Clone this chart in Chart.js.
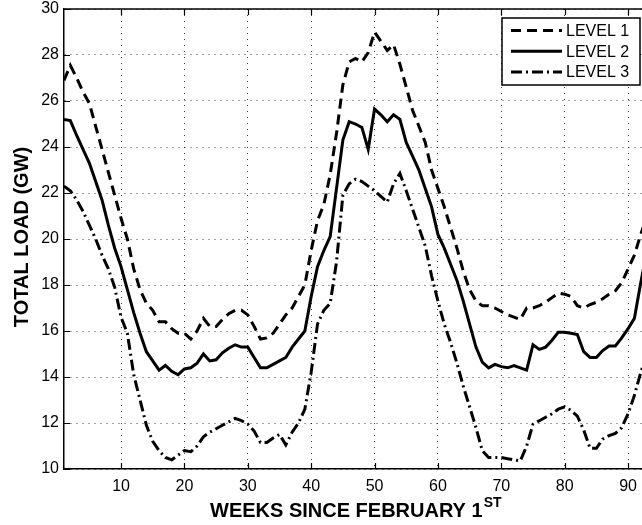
<!DOCTYPE html>
<html>
<head>
<meta charset="utf-8">
<title>Total load by level</title>
<script src="https://cdn.jsdelivr.net/npm/chart.js@4/dist/chart.umd.min.js"></script>
<style>
  html, body { margin: 0; padding: 0; background: #fff; }
  #wrap { width: 642px; height: 525px; }
</style>
</head>
<body>
<div id="wrap"><canvas id="c" width="642" height="525"></canvas></div>
<script>
// Weeks since February 1st
const weeks = [1,2,3,4,5,6,7,8,9,10,11,12,13,14,15,16,17,18,19,20,
  21,22,23,24,25,26,27,28,29,30,31,32,33,34,35,36,37,38,39,40,
  41,42,43,44,45,46,47,48,49,50,51,52,53,54,55,56,57,58,59,60,
  61,62,63,64,65,66,67,68,69,70,71,72,73,74,75,76,77,78,79,80,
  81,82,83,84,85,86,87,88,89,90,91,92,93];

// Total load in GW for each level
const level1 = [26.9,27.55,27.0,26.4,25.9,24.9,23.9,22.9,21.9,20.9,
  20.0,18.7,17.8,17.2,16.9,16.4,16.4,16.1,15.9,15.9,
  15.65,16.0,16.55,16.2,16.2,16.5,16.75,16.9,16.9,16.7,
  16.2,15.65,15.7,15.9,16.3,16.7,17.0,17.5,18.0,19.5,
  20.8,21.5,22.8,24.6,26.7,27.7,27.85,27.7,28.1,29.0,
  28.6,28.2,28.45,27.6,26.6,25.6,24.9,24.2,23.0,22.2,
  21.4,20.5,19.6,18.6,17.8,17.3,17.1,17.1,17.0,16.85,
  16.7,16.6,16.5,17.0,17.0,17.1,17.25,17.45,17.65,17.6,
  17.5,17.1,17.0,17.15,17.25,17.4,17.6,17.75,18.1,18.7,
  19.3,20.2,21.0];

const level2 = [25.2,25.15,24.5,23.9,23.3,22.5,21.7,20.6,19.6,18.8,
  17.8,16.8,15.9,15.1,14.7,14.3,14.5,14.25,14.1,14.35,
  14.4,14.6,15.0,14.7,14.75,15.05,15.25,15.4,15.3,15.3,
  14.85,14.4,14.4,14.55,14.7,14.85,15.3,15.65,16.0,17.5,
  18.8,19.5,20.1,22.2,24.3,25.1,25.0,24.85,23.9,25.65,
  25.4,25.1,25.4,25.2,24.2,23.6,23.0,22.2,21.4,20.2,
  19.6,18.9,18.2,17.3,16.3,15.3,14.65,14.4,14.55,14.45,
  14.4,14.5,14.4,14.3,15.4,15.2,15.3,15.6,15.95,15.95,
  15.9,15.85,15.1,14.85,14.85,15.15,15.35,15.35,15.7,16.1,
  16.55,18.1,19.5];

const level3 = [22.3,22.1,21.7,21.2,20.6,20.0,19.3,18.7,17.9,16.6,
  15.9,14.1,13.0,11.9,11.2,10.8,10.5,10.4,10.6,10.8,
  10.75,11.0,11.4,11.6,11.75,11.9,12.05,12.2,12.1,11.95,
  11.65,11.15,11.15,11.35,11.5,11.05,11.6,12.0,12.6,14.2,
  16.3,16.9,17.2,19.0,21.9,22.4,22.6,22.5,22.3,22.1,
  21.85,21.6,22.4,22.85,22.1,21.3,20.5,19.7,18.4,17.3,
  16.3,15.5,14.6,13.6,12.7,11.8,10.8,10.5,10.5,10.5,
  10.45,10.4,10.35,11.0,11.95,12.1,12.25,12.4,12.6,12.7,
  12.55,12.3,11.7,10.9,10.9,11.3,11.45,11.55,11.8,12.4,
  13.2,14.2,15.0];

const seriesNames = ['LEVEL 1', 'LEVEL 2', 'LEVEL 3'];
const xTicks = [10,20,30,40,50,60,70,80,90];
const yTicks = [10,12,14,16,18,20,22,24,26,28,30];

const FONT = 'Liberation Sans, Arial, Helvetica, sans-serif';
const dashes = [[10,6], [], [11,4,2,4]];

const toPoints = vals => weeks.map((w, i) => ({ x: w, y: vals[i] }));

// Frame, inward ticks, legend box and axis titles
const frame = {
  id: 'frame',
  afterDatasetsDraw(chart) {
    const { ctx, chartArea: a, scales: { x, y } } = chart;
    ctx.save();
    ctx.strokeStyle = '#000';
    ctx.lineWidth = 1.5;
    ctx.beginPath();
    ctx.moveTo(a.left, a.top);
    ctx.lineTo(a.right + 2, a.top);
    ctx.stroke();
    ctx.lineWidth = 1.2;
    ctx.beginPath();
    xTicks.forEach(v => {
      const px = Math.round(x.getPixelForValue(v)) + 0.5;
      ctx.moveTo(px, a.bottom); ctx.lineTo(px, a.bottom - 6);
      ctx.moveTo(px, a.top); ctx.lineTo(px, a.top + 6);
    });
    yTicks.forEach(v => {
      const py = Math.round(y.getPixelForValue(v)) + 0.5;
      ctx.moveTo(a.left, py); ctx.lineTo(a.left + 6, py);
    });
    ctx.stroke();
    ctx.restore();
  },
  afterDraw(chart) {
    const { ctx, chartArea: a } = chart;
    ctx.save();
    // legend
    const bx = 502, by = 18, bw = 138, bh = 67;
    ctx.fillStyle = '#fff';
    ctx.fillRect(bx, by, bw, bh);
    ctx.strokeStyle = '#000';
    ctx.lineWidth = 1.5;
    ctx.strokeRect(bx, by, bw, bh);
    chart.data.datasets.forEach((ds, i) => {
      const ly = 30.5 + i * 20.7;
      ctx.beginPath();
      ctx.setLineDash(ds.borderDash || []);
      ctx.lineWidth = ds.borderWidth;
      ctx.moveTo(511, ly);
      ctx.lineTo(562, ly);
      ctx.stroke();
      ctx.setLineDash([]);
      ctx.fillStyle = '#000';
      ctx.font = '16px ' + FONT;
      ctx.textAlign = 'left';
      ctx.textBaseline = 'middle';
      ctx.fillText(ds.label, 566, ly + 1);
    });
    // y axis title
    ctx.save();
    ctx.translate(22.5, 237);
    ctx.rotate(-Math.PI / 2);
    ctx.font = 'bold 20px ' + FONT;
    ctx.textAlign = 'center';
    ctx.textBaseline = 'middle';
    ctx.fillStyle = '#000';
    ctx.fillText('TOTAL LOAD (GW)', 0, 0);
    ctx.restore();
    // x axis title with superscript
    const main = 'WEEKS SINCE FEBRUARY 1';
    const sup = 'ST';
    ctx.font = 'bold 20px ' + FONT;
    const wMain = ctx.measureText(main).width;
    ctx.font = 'bold 14px ' + FONT;
    const wSup = ctx.measureText(sup).width;
    const startX = 210;
    ctx.fillStyle = '#000';
    ctx.textAlign = 'left';
    ctx.textBaseline = 'alphabetic';
    ctx.font = 'bold 20px ' + FONT;
    ctx.fillText(main, startX, 517);
    ctx.font = 'bold 14px ' + FONT;
    ctx.fillText(sup, startX + wMain + 1, 507);
    ctx.restore();
  }
};

new Chart(document.getElementById('c'), {
  type: 'line',
  data: {
    datasets: [level1, level2, level3].map((vals, i) => ({
      label: seriesNames[i],
      data: toPoints(vals),
      borderColor: '#000',
      borderWidth: 3,
      borderDash: dashes[i],
      pointRadius: 0,
      fill: false,
      tension: 0
    }))
  },
  options: {
    responsive: false,
    animation: false,
    devicePixelRatio: 1,
    layout: { padding: { top: 9, right: 0, left: 0, bottom: 0 } },
    plugins: { legend: { display: false }, tooltip: { enabled: false } },
    scales: {
      x: {
        type: 'linear',
        min: 1,
        max: 92.2,
        afterBuildTicks: s => { s.ticks = xTicks.map(v => ({ value: v })); },
        afterFit: s => { s.height = 56; s.paddingLeft = 0; s.paddingRight = 0; },
        grid: { color: 'rgba(0,0,0,0.75)', lineWidth: 1, drawTicks: false },
        border: { color: '#000', width: 1.5, dash: [1, 5] },
        ticks: { color: '#000', font: { family: FONT, size: 16 }, padding: 8, maxRotation: 0, autoSkip: false }
      },
      y: {
        min: 10,
        max: 30,
        afterBuildTicks: s => { s.ticks = yTicks.map(v => ({ value: v })); },
        afterFit: s => { s.width = 64; s.paddingTop = 0; s.paddingBottom = 0; },
        grid: { color: 'rgba(0,0,0,0.75)', lineWidth: 1, drawTicks: false },
        border: { color: '#000', width: 1.5, dash: [1, 5] },
        ticks: { color: '#000', font: { family: FONT, size: 16 }, padding: 5, autoSkip: false }
      }
    }
  },
  plugins: [frame]
});
</script>
</body>
</html>
